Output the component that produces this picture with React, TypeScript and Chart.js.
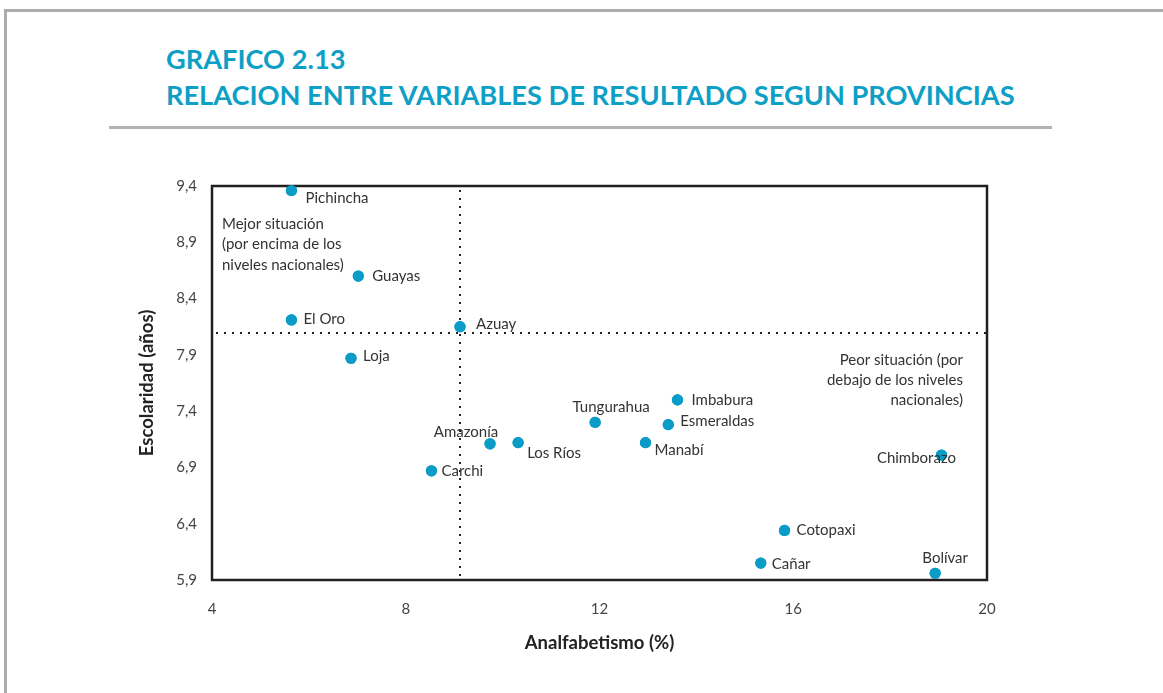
import React, { useEffect, useRef } from "react";
import { Chart, registerables } from "chart.js";

Chart.register(...registerables);

// ---- Data ----
const provinces = [
  "Pichincha", "Guayas", "El Oro", "Azuay", "Loja", "Amazonía", "Los Ríos", "Carchi",
  "Tungurahua", "Imbabura", "Esmeraldas", "Manabí", "Chimborazo", "Cotopaxi", "Cañar", "Bolívar",
];
const analfabetismo = [5.64, 7.02, 5.64, 9.12, 6.87, 9.74, 10.32, 8.53, 11.91, 13.61, 13.42, 12.95, 19.06, 15.82, 15.33, 18.93];
const escolaridad = [9.36, 8.6, 8.21, 8.15, 7.87, 7.11, 7.12, 6.87, 7.3, 7.5, 7.28, 7.12, 7.01, 6.34, 6.05, 5.96];
const nationalAnalfabetismo = 9.12;
const nationalEscolaridad = 8.09;
const xTicks = [4, 8, 12, 16, 20];
const yTicks = [5.9, 6.4, 6.9, 7.4, 7.9, 8.4, 8.9, 9.4];

const titleLine1 = "GRAFICO 2.13";
const titleLine2 = "RELACION ENTRE VARIABLES DE RESULTADO SEGUN PROVINCIAS";
const xTitle = "Analfabetismo (%)";
const yTitle = "Escolaridad (años)";
const betterNote = ["Mejor situación", "(por encima de los", "niveles nacionales)"];
const worseNote = ["Peor situación (por", "debajo de los niveles", "nacionales)"];

// label placement (offsets from the point, in px)
const labelAlign = ["left", "left", "left", "left", "left", "center", "left", "left", "center", "left", "left", "left", "center", "left", "left", "center"];
const labelDx = [14, 14, 12, 16, 12, -24, 9, 10, 16, 14, 12, 9, -25, 12, 11, 10];
const labelDy = [8, 0, -1, -3, -2, -12, 10, 0, -15, 0, -3, 7, 3, 0, 1, -15];

const TEAL = "#0e9fc7";
const DOT = "#0a9cc6";
const TEXT = "#333333";
const FONT = "Lato, 'Open Sans', sans-serif";

const overlayPlugin = {
  id: "overlay",
  afterDatasetsDraw(chart: any) {
    const { ctx, chartArea, scales } = chart;
    const xs = scales.x;
    const ys = scales.y;
    ctx.save();
    // national reference dotted lines
    ctx.strokeStyle = "#222";
    ctx.lineWidth = 2;
    ctx.setLineDash([2, 6]);
    const vx = Math.round(xs.getPixelForValue(nationalAnalfabetismo));
    ctx.beginPath();
    ctx.moveTo(vx, chartArea.top + 4);
    ctx.lineTo(vx, chartArea.bottom);
    ctx.stroke();
    const hy = Math.round(ys.getPixelForValue(nationalEscolaridad));
    ctx.beginPath();
    ctx.moveTo(chartArea.left + 4, hy);
    ctx.lineTo(chartArea.right, hy);
    ctx.stroke();
    ctx.setLineDash([]);

    // frame box
    ctx.strokeStyle = "#231f20";
    ctx.lineWidth = 2.5;
    ctx.strokeRect(chartArea.left, chartArea.top, chartArea.right - chartArea.left, chartArea.bottom - chartArea.top);

    // redraw points over lines
    const meta = chart.getDatasetMeta(0);
    ctx.fillStyle = DOT;
    meta.data.forEach((pt: any) => {
      ctx.beginPath();
      ctx.arc(pt.x, pt.y, 5.6, 0, Math.PI * 2);
      ctx.fill();
    });

    // point labels
    ctx.font = `15px ${FONT}`;
    ctx.fillStyle = TEXT;
    ctx.textBaseline = "middle";
    meta.data.forEach((pt: any, i: number) => {
      ctx.textAlign = labelAlign[i] as CanvasTextAlign;
      ctx.fillText(provinces[i], pt.x + labelDx[i], pt.y + labelDy[i]);
    });

    // notes
    ctx.textAlign = "left";
    betterNote.forEach((t, i) => ctx.fillText(t, chartArea.left + 10, chartArea.top + 38 + i * 20.5));
    ctx.textAlign = "right";
    worseNote.forEach((t, i) => ctx.fillText(t, chartArea.right - 24, chartArea.top + 174 + i * 20));
    ctx.restore();
  },
};

export default function App() {
  const ref = useRef<HTMLCanvasElement | null>(null);
  useEffect(() => {
    if (!ref.current) return;
    const chart = new Chart(ref.current, {
      type: "scatter",
      data: {
        datasets: [
          {
            label: "Provincias",
            data: analfabetismo.map((x, i) => ({ x, y: escolaridad[i] })),
            backgroundColor: DOT,
            borderWidth: 0,
            pointRadius: 5.6,
          },
        ],
      },
      options: {
        responsive: false,
        animation: false,
        events: [],
        layout: { padding: { left: 130, top: 186, right: 176, bottom: 38 } },
        plugins: { legend: { display: false }, tooltip: { enabled: false }, title: { display: false } },
        scales: {
          x: {
            type: "linear",
            min: 4,
            max: 20,
            afterBuildTicks: (s: any) => { s.ticks = xTicks.map((v) => ({ value: v })); },
            afterFit: (s: any) => { s.height = 75; },
            grid: { display: false, drawTicks: false },
            border: { display: false },
            ticks: { padding: 20, color: "#444", font: { family: FONT, size: 15 }, callback: (v: any) => String(v) },
            title: { display: true, text: xTitle, color: "#222", font: { family: FONT, size: 18.5, weight: "bold" }, padding: { top: 0, bottom: 1 } },
          },
          y: {
            type: "linear",
            min: 5.9,
            max: 9.4,
            afterBuildTicks: (s: any) => { s.ticks = yTicks.map((v) => ({ value: v })); },
            afterFit: (s: any) => { s.width = 82; },
            grid: { display: false, drawTicks: false },
            border: { display: false },
            ticks: { padding: 15, color: "#444", font: { family: FONT, size: 15 }, callback: (v: any) => Number(v).toFixed(1).replace(".", ",") },
            title: { display: true, text: yTitle, color: "#222", font: { family: FONT, size: 18.5, weight: "bold" }, padding: { top: 6, bottom: 0 } },
          },
        },
      },
      plugins: [overlayPlugin],
    });
    return () => chart.destroy();
  }, []);

  return (
    <div style={{ position: "fixed", left: 0, top: 0, width: 1163, height: 693, background: "#fff", overflow: "hidden" }}>
      <div style={{ position: "absolute", left: 4, top: 9, width: 1300, height: 800, borderTop: "3px solid #acacac", borderLeft: "3px solid #acacac" }} />
      <div style={{ position: "absolute", left: 109, top: 126, width: 943, height: 3, background: "#b3b3b3" }} />
      <div style={{ position: "absolute", left: 166, top: 41, fontFamily: FONT, fontWeight: 700, fontSize: 27.2, lineHeight: "36px", color: TEAL, whiteSpace: "nowrap" }}>
        <div>{titleLine1}</div>
        <div>{titleLine2}</div>
      </div>
      <canvas ref={ref} width={1163} height={693} style={{ position: "absolute", left: 0, top: 0 }} />
    </div>
  );
}
